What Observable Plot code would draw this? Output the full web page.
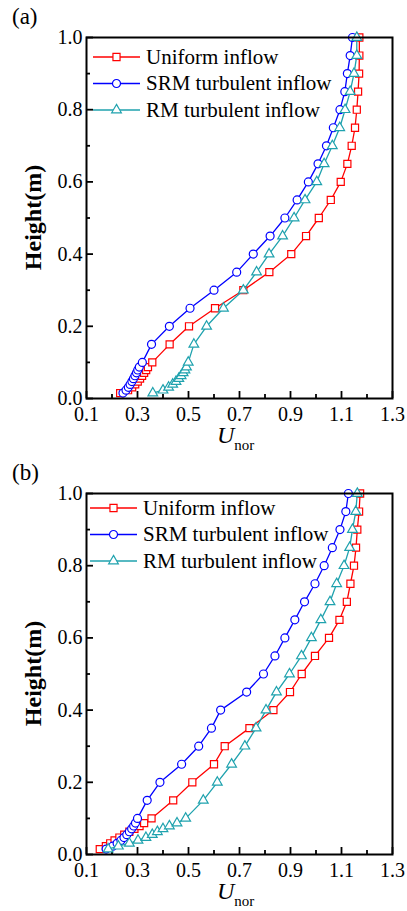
<!DOCTYPE html>
<html>
<head>
<meta charset="utf-8">
<script src="https://cdn.jsdelivr.net/npm/d3@7"></script>
<script src="https://cdn.jsdelivr.net/npm/@observablehq/plot@0.6"></script>
<style>
  html, body { margin: 0; padding: 0; background: #fff; }
  #chart { width: 407px; height: 911px; }
  #chart svg { display: block; }
  #chart svg text { font-family: "Liberation Serif", "Times New Roman", "DejaVu Serif", serif; }
</style>
</head>
<body>
<div id="chart"></div>
<script>
// Measurement heights (m): dense points near the floor, then every 0.05 m
const heights = [0.015, 0.023, 0.031, 0.039, 0.047, 0.055, 0.063, 0.071, 0.079, 0.087,
  0.1, 0.15, 0.2, 0.25, 0.3, 0.35, 0.4, 0.45, 0.5, 0.55, 0.6, 0.65, 0.7, 0.75, 0.8, 0.85, 0.9, 0.95, 1.0];

// (a) normalized velocity profiles
const uniformA = [0.232, 0.263, 0.279, 0.291, 0.301, 0.310, 0.318, 0.326, 0.334, 0.341,
  0.358, 0.426, 0.502, 0.604, 0.715, 0.817, 0.903, 0.961, 1.011, 1.058, 1.097, 1.123, 1.140, 1.153, 1.160, 1.165, 1.169, 1.170, 1.170];
const srmA = [0.243, 0.255, 0.264, 0.271, 0.278, 0.284, 0.290, 0.296, 0.301, 0.307,
  0.319, 0.355, 0.425, 0.506, 0.600, 0.689, 0.754, 0.820, 0.878, 0.926, 0.970, 1.008, 1.041, 1.068, 1.094, 1.113, 1.123, 1.134, 1.143];
const rmA = [0.360, 0.400, 0.422, 0.438, 0.451, 0.462, 0.471, 0.479, 0.486, 0.492,
  0.499, 0.521, 0.571, 0.637, 0.715, 0.767, 0.816, 0.869, 0.914, 0.957, 1.003, 1.032, 1.064, 1.093, 1.114, 1.134, 1.149, 1.160, 1.160];

// (b) normalized velocity profiles
const uniformB = [0.152, 0.176, 0.193, 0.210, 0.229, 0.248, 0.268, 0.288, 0.308, 0.326,
  0.355, 0.440, 0.515, 0.600, 0.642, 0.739, 0.833, 0.898, 0.944, 0.996, 1.051, 1.092, 1.121, 1.135, 1.149, 1.157, 1.162, 1.169, 1.173];
const srmB = [0.177, 0.203, 0.220, 0.235, 0.247, 0.258, 0.268, 0.277, 0.285, 0.292,
  0.300, 0.338, 0.388, 0.473, 0.540, 0.590, 0.626, 0.728, 0.794, 0.839, 0.878, 0.917, 0.955, 0.996, 1.032, 1.064, 1.094, 1.117, 1.127];
const rmB = [0.185, 0.225, 0.268, 0.302, 0.333, 0.358, 0.378, 0.400, 0.425, 0.455,
  0.489, 0.558, 0.613, 0.669, 0.721, 0.765, 0.804, 0.845, 0.896, 0.943, 0.982, 1.019, 1.055, 1.081, 1.110, 1.132, 1.143, 1.156, 1.162];

const seriesNames = ["Uniform inflow", "SRM turbulent inflow", "RM turbulent inflow"];
const seriesColors = ["#ff0000", "#0000ff", "#1fa2ae"];
const seriesSymbols = ["square", "circle", "triangle"];
const seriesRadius = [4, 4, 3.6];

const xMajor = [0.1, 0.3, 0.5, 0.7, 0.9, 1.1, 1.3];
const xMinor = [0.2, 0.4, 0.6, 0.8, 1.0, 1.2];
const yMajor = [0, 0.2, 0.4, 0.6, 0.8, 1.0];
const yMinor = [0.1, 0.3, 0.5, 0.7, 0.9];

const FONT = "Liberation Serif, Times New Roman, DejaVu Serif, serif";

function panel({tag, profiles, height, marginTop, legendDx, legendDy}) {
  const marginLeft = 86, marginRight = 15, marginBottom = 57, width = 407;
  const tables = profiles.map(vals => heights.map((h, i) => ({h, u: vals[i]})));
  const seriesMarks = tables.flatMap((rows, k) => [
    Plot.line(rows, {x: "u", y: "h", stroke: seriesColors[k], strokeWidth: 1.3}),
    Plot.dot(rows, {x: "u", y: "h", symbol: seriesSymbols[k], r: seriesRadius[k],
      stroke: seriesColors[k], fill: "white", strokeWidth: 1.2})
  ]);
  const fmt = d3.format(".1f");
  const svg = Plot.plot({
    width, height, marginLeft, marginRight, marginTop, marginBottom,
    style: {fontFamily: FONT, fontSize: "20px", color: "black", background: "transparent", overflow: "visible"},
    x: {domain: [0.1, 1.3]},
    y: {domain: [0, 1]},
    marks: [
      Plot.axisX({ticks: xMinor, tickSize: -4, strokeWidth: 1.8, fill: "none", label: null}),
      Plot.axisX({ticks: xMajor, tickSize: -7, tickPadding: 15, strokeWidth: 1.8, tickFormat: fmt, label: null}),
      Plot.axisY({ticks: yMinor, tickSize: -4, strokeWidth: 1.8, fill: "none", label: null}),
      Plot.axisY({ticks: yMajor, tickSize: -7, tickPadding: 11, strokeWidth: 1.8, tickFormat: fmt, label: null}),
      ...seriesMarks,
      Plot.frame({stroke: "black", strokeWidth: 2})
    ]
  });

  const root = d3.select(svg);
  const frameBottom = height - marginBottom;
  const frameMid = (marginTop + frameBottom) / 2;

  // panel tag
  root.append("text").attr("x", 12).attr("y", marginTop - 13)
    .attr("text-anchor", "start")
    .attr("font-size", 23).attr("fill", "black").text(tag);

  // y-axis title
  root.append("text")
    .attr("transform", `translate(41,${frameMid}) rotate(-90)`)
    .attr("text-anchor", "middle")
    .attr("font-size", 24).attr("font-weight", "bold")
    .attr("fill", "black").text("Height(m)");

  // x-axis title: U with subscript "nor"
  const xt = root.append("text").attr("x", 217).attr("y", frameBottom + 45)
    .attr("text-anchor", "start").attr("fill", "black");
  xt.append("tspan").attr("font-style", "italic").attr("font-size", 24).text("U");
  xt.append("tspan").attr("font-size", 15).attr("dy", 7).text("nor");

  // legend in the upper-left corner of the frame
  const lx0 = marginLeft + 7 + legendDx, lx1 = lx0 + 47;
  seriesNames.forEach((name, k) => {
    const y = marginTop + 20 + legendDy + k * 26.5;
    const g = root.append("g");
    g.append("line").attr("x1", lx0).attr("x2", lx1).attr("y1", y).attr("y2", y)
      .attr("stroke", seriesColors[k]).attr("stroke-width", 1.3);
    const sym = {square: d3.symbolSquare, circle: d3.symbolCircle, triangle: d3.symbolTriangle}[seriesSymbols[k]];
    g.append("path")
      .attr("d", d3.symbol(sym, Math.PI * seriesRadius[k] ** 2)())
      .attr("transform", `translate(${(lx0 + lx1) / 2},${y})`)
      .attr("fill", "white").attr("stroke", seriesColors[k]).attr("stroke-width", 1.2);
    g.append("text").attr("x", lx1 + 6).attr("y", y).attr("dy", "0.33em")
      .attr("text-anchor", "start")
      .attr("font-size", 21).attr("fill", "black").text(name);
  });
  return svg;
}

const chart = document.getElementById("chart");
chart.append(panel({tag: "(a)", profiles: [uniformA, srmA, rmA], height: 455, marginTop: 37, legendDx: 0, legendDy: 0}));
chart.append(panel({tag: "(b)", profiles: [uniformB, srmB, rmB], height: 456, marginTop: 38, legendDx: -3, legendDy: -5}));
</script>
</body>
</html>
